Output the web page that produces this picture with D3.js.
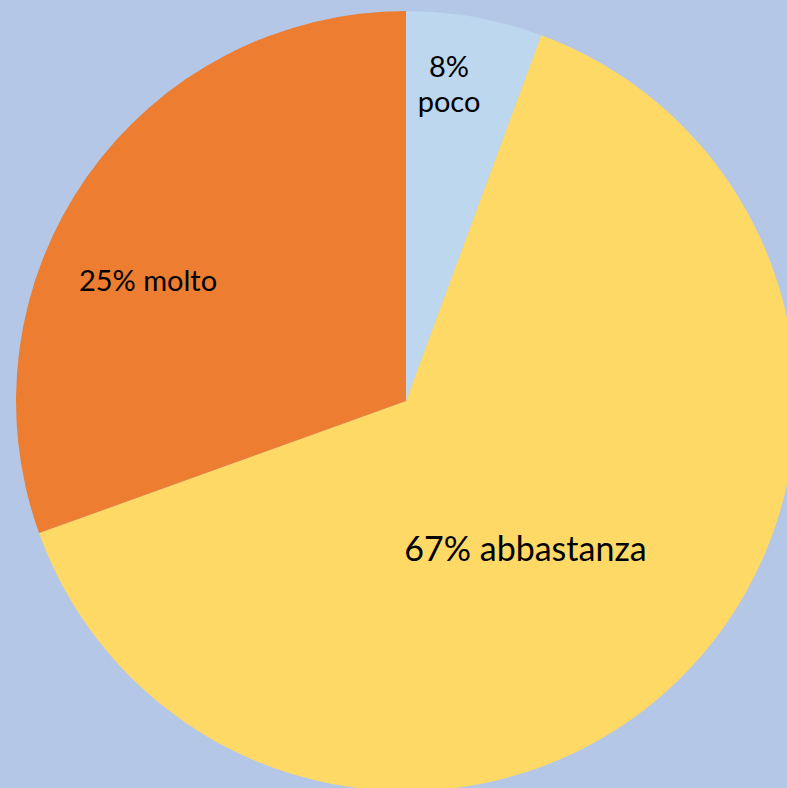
<!DOCTYPE html>
<html>
<head>
<meta charset="utf-8">
<script src="https://cdn.jsdelivr.net/npm/d3@7"></script>
<style>
  html, body { margin: 0; padding: 0; background: #b4c7e7; }
  svg { display: block; }
</style>
</head>
<body>
<svg id="chart" width="787" height="788"></svg>
<script>
// Data (slice sizes as drawn; labels as printed on the chart)
const categories = ["poco", "abbastanza", "molto"];
const values = [5.64, 63.86, 30.5];
const percentLabels = ["8%", "67%", "25%"];
const colors = ["#bdd7ee", "#ffd966", "#ed7d31"];

const width = 787, height = 788;
const cx = 406, cy = 401, radius = 390;

const svg = d3.select("#chart");
svg.append("rect").attr("width", width).attr("height", height).attr("fill", "#b4c7e7");

const g = svg.append("g").attr("transform", `translate(${cx},${cy})`);

const pie = d3.pie().sort(null).value(d => d.value);
const arcs = pie(categories.map((c, i) => ({ cat: c, value: values[i], pct: percentLabels[i], color: colors[i] })));
const arc = d3.arc().innerRadius(0).outerRadius(radius);

g.selectAll("path.slice").data(arcs).enter().append("path")
  .attr("class", "slice")
  .attr("d", arc)
  .attr("fill", d => d.data.color);

// label placement relative to pie centre (baseline of text)
const labelLayout = [
  { dx: 43, base: -324, size: 29, twoLine: true, lineGap: 35 },
  { dx: 119.5, base: 160, size: 34, twoLine: false },
  { dx: -258, base: -110, size: 29, twoLine: false }
];

arcs.forEach((d, i) => {
  const L = labelLayout[i];
  const t = g.append("text")
    .attr("text-anchor", "middle")
    .attr("font-family", "Lato, 'Open Sans', sans-serif")
    .attr("font-size", L.size)
    .attr("fill", "#000");
  if (L.twoLine) {
    t.append("tspan").attr("x", L.dx).attr("y", L.base).text(d.data.pct);
    t.append("tspan").attr("x", L.dx).attr("y", L.base + L.lineGap).text(d.data.cat);
  } else {
    t.attr("x", L.dx).attr("y", L.base).text(d.data.pct + " " + d.data.cat);
  }
});
</script>
</body>
</html>
